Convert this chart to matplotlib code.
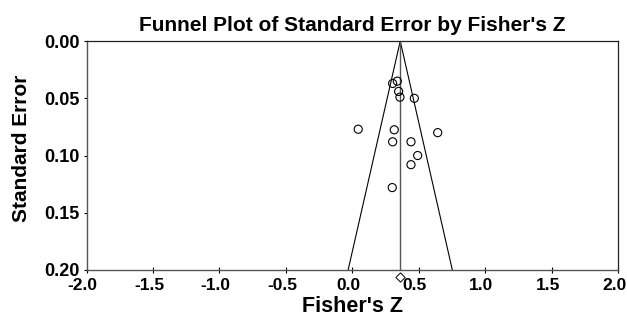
import matplotlib.pyplot as plt
import matplotlib.transforms as mtransforms
import numpy as np

# study points
fisher_z = [0.303, 0.338, 0.348, 0.358, 0.466, 0.044, 0.315, 0.642,
            0.303, 0.441, 0.491, 0.441, 0.300]
std_err = [0.037, 0.035, 0.044, 0.049, 0.050, 0.077, 0.0775, 0.080,
           0.088, 0.088, 0.100, 0.108, 0.128]
summary_z = 0.36
summary_se = 0.206
x_ticks = [-2.0, -1.5, -1.0, -0.5, 0.0, 0.5, 1.0, 1.5, 2.0]
y_ticks = [0.00, 0.05, 0.10, 0.15, 0.20]

plt.rcParams['font.family'] = ['Liberation Sans', 'DejaVu Sans']
plt.rcParams['font.weight'] = 'bold'

fig = plt.figure(figsize=(6.27, 3.21), dpi=100)
ax = fig.add_axes([0.138, 0.159, 0.848, 0.713])

# funnel
se_line = np.array([0.0, 0.2])
ax.plot(summary_z - 1.96 * se_line, se_line, color='black', lw=0.8)
ax.plot(summary_z + 1.96 * se_line, se_line, color='black', lw=0.8)
ax.plot([summary_z, summary_z], [0, 0.2], color='#555555', lw=1.0)

ax.scatter(fisher_z, std_err, s=34, facecolors='none', edgecolors='black', linewidths=0.8, zorder=3)
ax.scatter([summary_z], [summary_se], s=22, marker='D', facecolors='white', edgecolors='black',
           linewidths=0.7, clip_on=False, zorder=4)

ax.set_xlim(-2, 2)
ax.set_ylim(0.2, 0)
ax.set_xticks(x_ticks)
ax.set_xticklabels(['%.1f' % t for t in x_ticks], fontsize=12.5, fontweight='bold')
ax.set_yticks(y_ticks)
ax.set_yticklabels(['%.2f' % t for t in y_ticks], fontsize=13, fontweight='bold')
ax.tick_params(axis='x', direction='inout', length=4, width=0.8, pad=4)
ax.tick_params(axis='y', direction='out', length=2, width=0.8, pad=3)

# x tick labels sit a little left of their ticks in the original
shift = mtransforms.ScaledTranslation(-4 / 100, 0, fig.dpi_scale_trans)
for lbl in ax.get_xticklabels():
    lbl.set_transform(lbl.get_transform() + shift)

ax.set_xlabel("Fisher's Z", fontsize=15.5, fontweight='bold', labelpad=2)
ax.set_ylabel('Standard Error', fontsize=15, fontweight='bold')
ax.yaxis.set_label_coords(-0.105, 0.53)
ax.set_title("Funnel Plot of Standard Error by Fisher's Z", fontsize=15, fontweight='bold', pad=7)

for s in ['top', 'right']:
    ax.spines[s].set_color('#222222')
    ax.spines[s].set_linewidth(0.9)
for s in ['left', 'bottom']:
    ax.spines[s].set_color('#555555')
    ax.spines[s].set_linewidth(1.0)

fig.savefig('out.png', dpi=100)
